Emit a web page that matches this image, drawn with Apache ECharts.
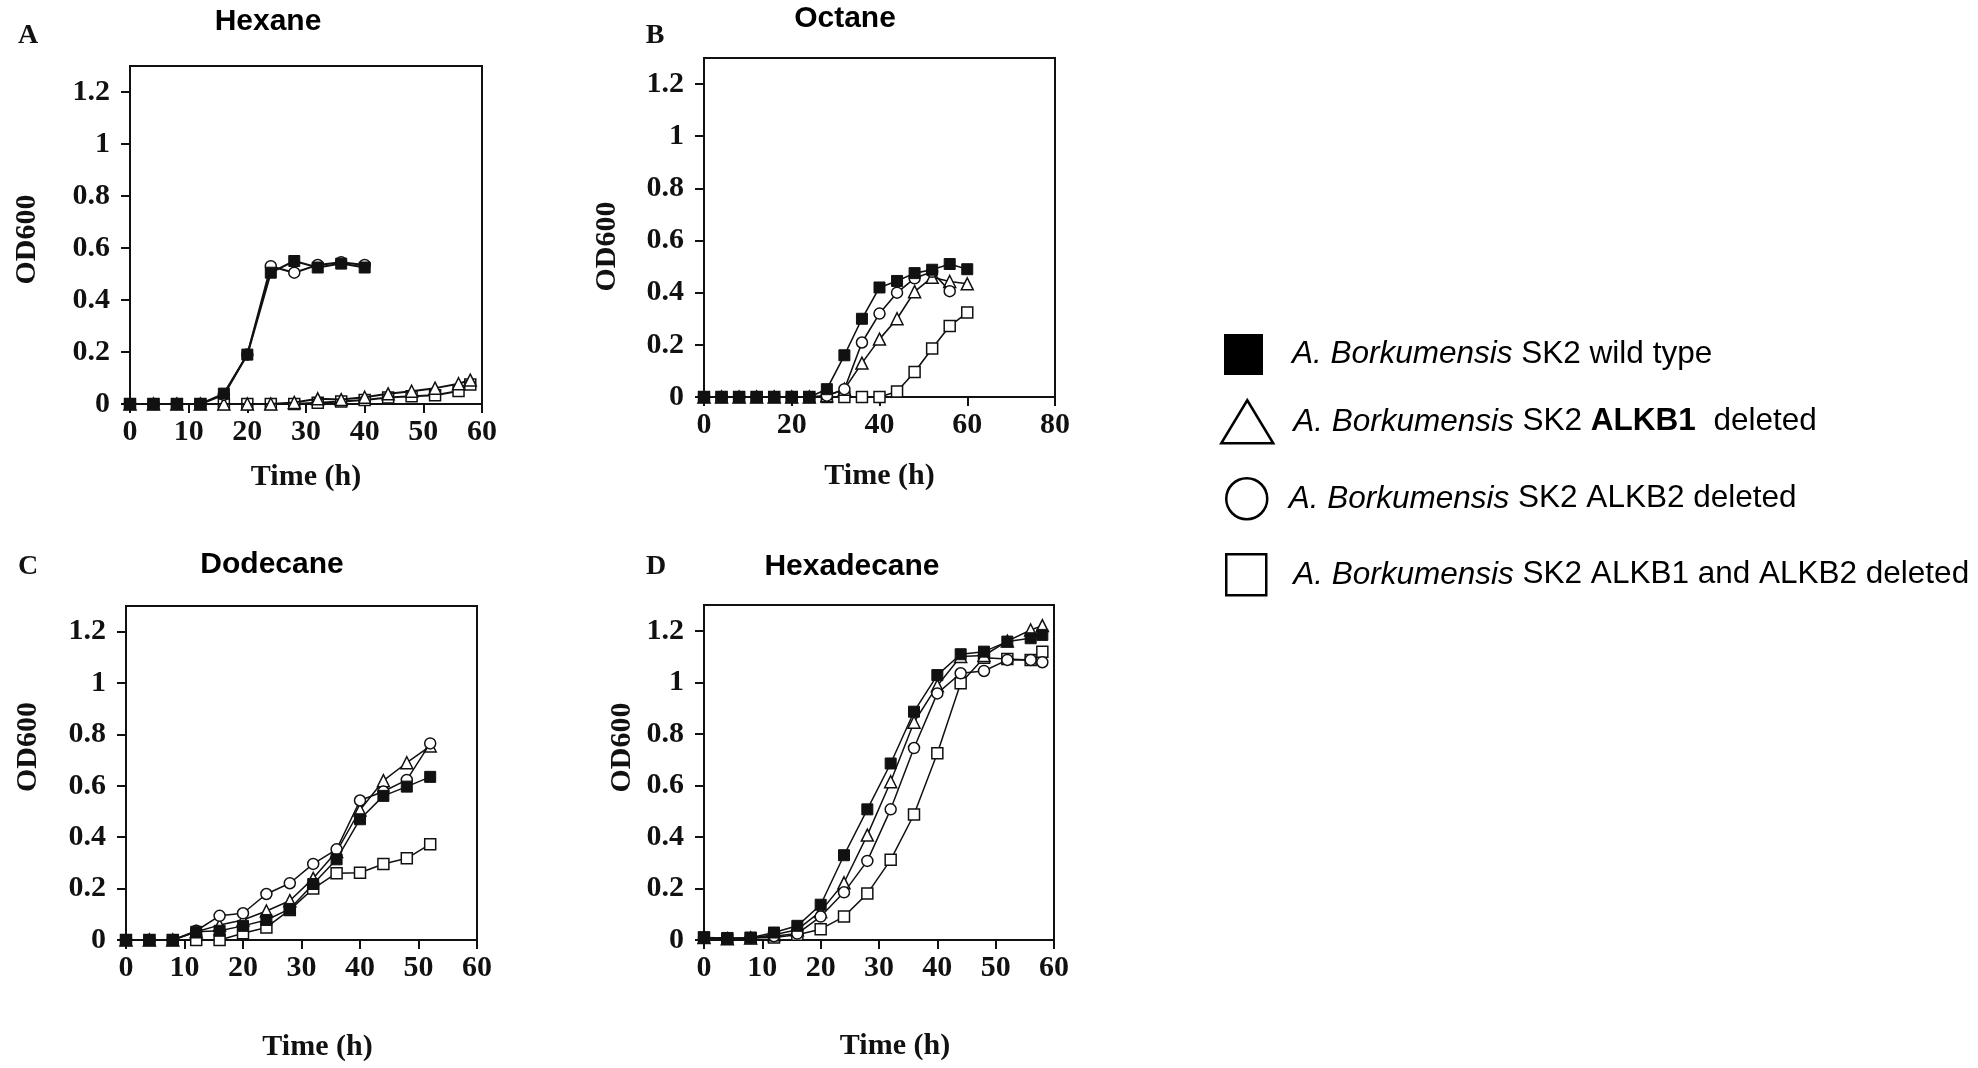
<!DOCTYPE html>
<html>
<head>
<meta charset="utf-8">
<script src="https://cdn.jsdelivr.net/npm/echarts@6/dist/echarts.min.js"></script>
<style>
html,body{margin:0;padding:0;background:#fff;}
#chart{width:1978px;height:1068px;}
</style>
</head>
<body>
<div id="chart"></div>
<script>
// ---------- data ----------
const panelTitles = ['Hexane', 'Octane', 'Dodecane', 'Hexadecane'];
const panelLetters = ['A', 'B', 'C', 'D'];
const seriesNames = [
  'A. Borkumensis SK2 wild type',
  'A. Borkumensis SK2 ALKB1 deleted',
  'A. Borkumensis SK2 ALKB2 deleted',
  'A. Borkumensis SK2 ALKB1 and ALKB2 deleted'
];
const legendLabels = [
  '{i|A. Borkumensis} SK2 wild type',
  '{i|A. Borkumensis} SK2 {b|ALKB1}  deleted',
  '{i|A. Borkumensis} SK2 ALKB2 deleted',
  '{i|A. Borkumensis} SK2 ALKB1 and ALKB2 deleted'
];
const yTickValues = [0, 0.2, 0.4, 0.6, 0.8, 1, 1.2];

// Hexane (A)
const hexaneTimeShort = [0, 4, 8, 12, 16, 20, 24, 28, 32, 36, 40];
const hexaneTimeLong = [0, 4, 8, 12, 16, 20, 24, 28, 32, 36, 40, 44, 48, 52, 56, 58];
const hexaneWT   = [0, 0, 0, 0, 0.04, 0.19, 0.505, 0.55, 0.525, 0.54, 0.525];
const hexaneB1   = [0, 0, 0, 0, 0, 0, 0, 0.006, 0.02, 0.017, 0.026, 0.039, 0.049, 0.061, 0.078, 0.092];
const hexaneB2   = [0, 0, 0, 0, 0.035, 0.19, 0.53, 0.505, 0.535, 0.545, 0.535];
const hexaneB12  = [0, 0, 0, 0, 0, 0, 0, 0, 0.005, 0.01, 0.015, 0.025, 0.03, 0.034, 0.05, 0.075];

// Octane (B)
const octaneTime = [0, 4, 8, 12, 16, 20, 24, 28, 32, 36, 40, 44, 48, 52, 56, 60];
const octaneTimeB2 = [0, 4, 8, 12, 16, 20, 24, 28, 32, 36, 40, 44, 48, 52, 56];
const octaneWT  = [0, 0, 0, 0, 0, 0, 0, 0.03, 0.16, 0.30, 0.42, 0.445, 0.475, 0.488, 0.51, 0.49];
const octaneB1  = [0, 0, 0, 0, 0, 0, 0, 0.005, 0.03, 0.13, 0.222, 0.30, 0.404, 0.459, 0.443, 0.434];
const octaneB2  = [0, 0, 0, 0, 0, 0, 0, 0.005, 0.03, 0.209, 0.32, 0.40, 0.455, 0.48, 0.406];
const octaneB12 = [0, 0, 0, 0, 0, 0, 0, 0, 0, 0, 0, 0.021, 0.096, 0.186, 0.272, 0.324];

// Dodecane (C)
const dodecaneTime = [0, 4, 8, 12, 16, 20, 24, 28, 32, 36, 40, 44, 48, 52];
const dodecaneWT  = [0, 0, 0, 0.032, 0.036, 0.055, 0.078, 0.121, 0.218, 0.314, 0.47, 0.561, 0.597, 0.635];
const dodecaneB1  = [0, 0, 0, 0.032, 0.058, 0.078, 0.113, 0.153, 0.24, 0.344, 0.506, 0.62, 0.69, 0.755];
const dodecaneB2  = [0, 0, 0, 0.036, 0.094, 0.104, 0.179, 0.221, 0.296, 0.353, 0.543, 0.578, 0.623, 0.765];
const dodecaneB12 = [0, 0, 0, 0, 0, 0.026, 0.049, 0.117, 0.20, 0.26, 0.262, 0.296, 0.318, 0.373];

// Hexadecane (D)
const hexadecaneTime = [0, 4, 8, 12, 16, 20, 24, 28, 32, 36, 40, 44, 48, 52, 56, 58];
const hexadecaneWT  = [0.01, 0.008, 0.009, 0.029, 0.055, 0.137, 0.329, 0.507, 0.685, 0.886, 1.028, 1.109, 1.119, 1.158, 1.171, 1.184];
const hexadecaneB1  = [0.01, 0.005, 0.008, 0.02, 0.04, 0.111, 0.222, 0.407, 0.614, 0.845, 0.987, 1.10, 1.104, 1.16, 1.203, 1.22];
const hexadecaneB2  = [0.01, 0.005, 0.008, 0.015, 0.025, 0.091, 0.185, 0.307, 0.507, 0.745, 0.957, 1.035, 1.044, 1.087, 1.087, 1.078];
const hexadecaneB12 = [0.01, 0.005, 0.008, 0.01, 0.02, 0.042, 0.091, 0.18, 0.311, 0.487, 0.725, 0.996, 1.095, 1.09, 1.087, 1.119];

// ---------- build ----------
const zip = (t, v) => t.map((x, i) => [x, v[i]]);
const panelSeries = [
  [zip(hexaneTimeShort, hexaneWT), zip(hexaneTimeLong, hexaneB1), zip(hexaneTimeShort, hexaneB2), zip(hexaneTimeLong, hexaneB12)],
  [zip(octaneTime, octaneWT), zip(octaneTime, octaneB1), zip(octaneTimeB2, octaneB2), zip(octaneTime, octaneB12)],
  [zip(dodecaneTime, dodecaneWT), zip(dodecaneTime, dodecaneB1), zip(dodecaneTime, dodecaneB2), zip(dodecaneTime, dodecaneB12)],
  [zip(hexadecaneTime, hexadecaneWT), zip(hexadecaneTime, hexadecaneB1), zip(hexadecaneTime, hexadecaneB2), zip(hexadecaneTime, hexadecaneB12)]
];

const INK = '#111';
const SERIF = '"Liberation Serif", "Times New Roman", serif';
const SANS = '"Liberation Sans", Arial, sans-serif';

const grids = [
  {left: 130, top: 66, width: 352, height: 338},
  {left: 704, top: 58, width: 351, height: 339},
  {left: 126, top: 606, width: 351, height: 334},
  {left: 704, top: 605, width: 350, height: 335}
];
const xMax = [60, 80, 60, 60];
const xInterval = [10, 20, 10, 10];
const xNameGap = [58, 64, 92, 91];
const xNamePad = [0, 0, 32, 32];
const yNameGap = [88, 82, 83, 67];
const yNamePad = [[0, 9, 0, 0], [0, 38, 0, 0], [0, 0, 0, 52], [0, 0, 0, 50]];
const lineW = [2, 1.6, 1.5, 1.5];

const symbolDefs = [
  {symbol: 'rect', size: 11, fill: INK},
  {symbol: 'triangle', size: 12, fill: '#fff'},
  {symbol: 'circle', size: 11, fill: '#fff'},
  {symbol: 'rect', size: 11, fill: '#fff'}
];

const axisLabelStyle = {
  fontFamily: SERIF, fontWeight: 'bold', fontSize: 30, color: INK
};

const option = {
  backgroundColor: '#fff',
  animation: false,
  grid: grids.map(g => Object.assign({show: true, borderColor: INK, borderWidth: 2, containLabel: false}, g)),
  xAxis: grids.map((g, i) => ({
    type: 'value', gridIndex: i, min: 0, max: xMax[i], interval: xInterval[i],
    name: 'Time (h)', nameLocation: 'middle', nameGap: xNameGap[i],
    nameTextStyle: {fontFamily: SERIF, fontWeight: 'bold', fontSize: 30, color: INK, padding: [0, 0, 0, xNamePad[i]]},
    axisLine: {show: true, onZero: false, lineStyle: {color: INK, width: 2}},
    axisTick: {show: true, inside: false, length: 9, lineStyle: {color: INK, width: 2}},
    axisLabel: Object.assign({margin: 13}, axisLabelStyle),
    splitLine: {show: false}
  })),
  yAxis: grids.map((g, i) => ({
    type: 'value', gridIndex: i, min: 0, max: 1.3,
    name: 'OD600', nameLocation: 'middle', nameGap: yNameGap[i],
    nameTextStyle: {fontFamily: SERIF, fontWeight: 'bold', fontSize: 30, color: INK, padding: yNamePad[i]},
    axisLine: {show: true, lineStyle: {color: INK, width: 2}},
    axisTick: {show: true, inside: false, length: 9, customValues: yTickValues, lineStyle: {color: INK, width: 2}},
    axisLabel: Object.assign({margin: 20, customValues: yTickValues}, axisLabelStyle),
    splitLine: {show: false}
  })),
  graphic: [],
  legend: [],
  series: []
};

// titles and panel letters
const titlePos = [[268, 22], [845, 19], [272, 565], [852, 567]];
const letterPos = [[28, 36], [655, 36], [28, 567], [656, 567]];
panelTitles.forEach((t, i) => {
  option.graphic.push({
    type: 'text', x: titlePos[i][0], y: titlePos[i][1],
    style: {text: t, font: 'bold 30px ' + SANS, fill: '#000', textAlign: 'center', textVerticalAlign: 'middle'}
  });
  option.graphic.push({
    type: 'text', x: letterPos[i][0], y: letterPos[i][1],
    style: {text: panelLetters[i], font: 'bold 28px ' + SERIF, fill: INK, textAlign: 'center', textVerticalAlign: 'middle'}
  });
});

// series: draw open square, triangle, circle, then filled square on top
const drawOrder = [3, 1, 2, 0];
for (let p = 0; p < 4; p++) {
  drawOrder.forEach(k => {
    const s = symbolDefs[k];
    option.series.push({
      type: 'line', name: seriesNames[k], xAxisIndex: p, yAxisIndex: p,
      data: panelSeries[p][k], clip: false,
      symbol: s.symbol, symbolSize: s.size, showSymbol: true,
      lineStyle: {color: INK, width: lineW[p]},
      itemStyle: {color: s.fill, borderColor: INK, borderWidth: k === 0 ? 1 : 1.5, opacity: 1},
      emphasis: {disabled: true},
      z: 2 + drawOrder.indexOf(k)
    });
  });
}

// legends (one per row)
const legendBoxes = [
  {left: 1224, top: 334, w: 39, h: 41, pad: 24},
  {left: 1220, top: 399, w: 52, h: 43, pad: 15},
  {left: 1225, top: 477, w: 42, h: 41, pad: 16},
  {left: 1225, top: 553, w: 40, h: 41, pad: 22}
];
const legendIcons = ['rect', 'triangle', 'circle', 'rect'];
legendBoxes.forEach((b, k) => {
  option.legend.push({
    left: b.left, top: b.top, padding: 0, orient: 'vertical',
    itemWidth: b.w, itemHeight: b.h, selectedMode: false,
    data: [{
      name: seriesNames[k], icon: legendIcons[k],
      itemStyle: {color: k === 0 ? '#000' : '#fff', borderColor: '#000', borderWidth: k === 0 ? 0 : 2.5}
    }],
    formatter: () => legendLabels[k],
    textStyle: {
      fontFamily: SANS, fontSize: 31.5, color: '#000', padding: [0, 0, 0, b.pad],
      rich: {
        i: {fontFamily: SANS, fontSize: 31.5, fontStyle: 'italic', color: '#000'},
        b: {fontFamily: SANS, fontSize: 31.5, fontWeight: 'bold', color: '#000'}
      }
    }
  });
});

const chart = echarts.init(document.getElementById('chart'), null, {renderer: 'canvas'});
chart.setOption(option);
</script>
</body>
</html>
